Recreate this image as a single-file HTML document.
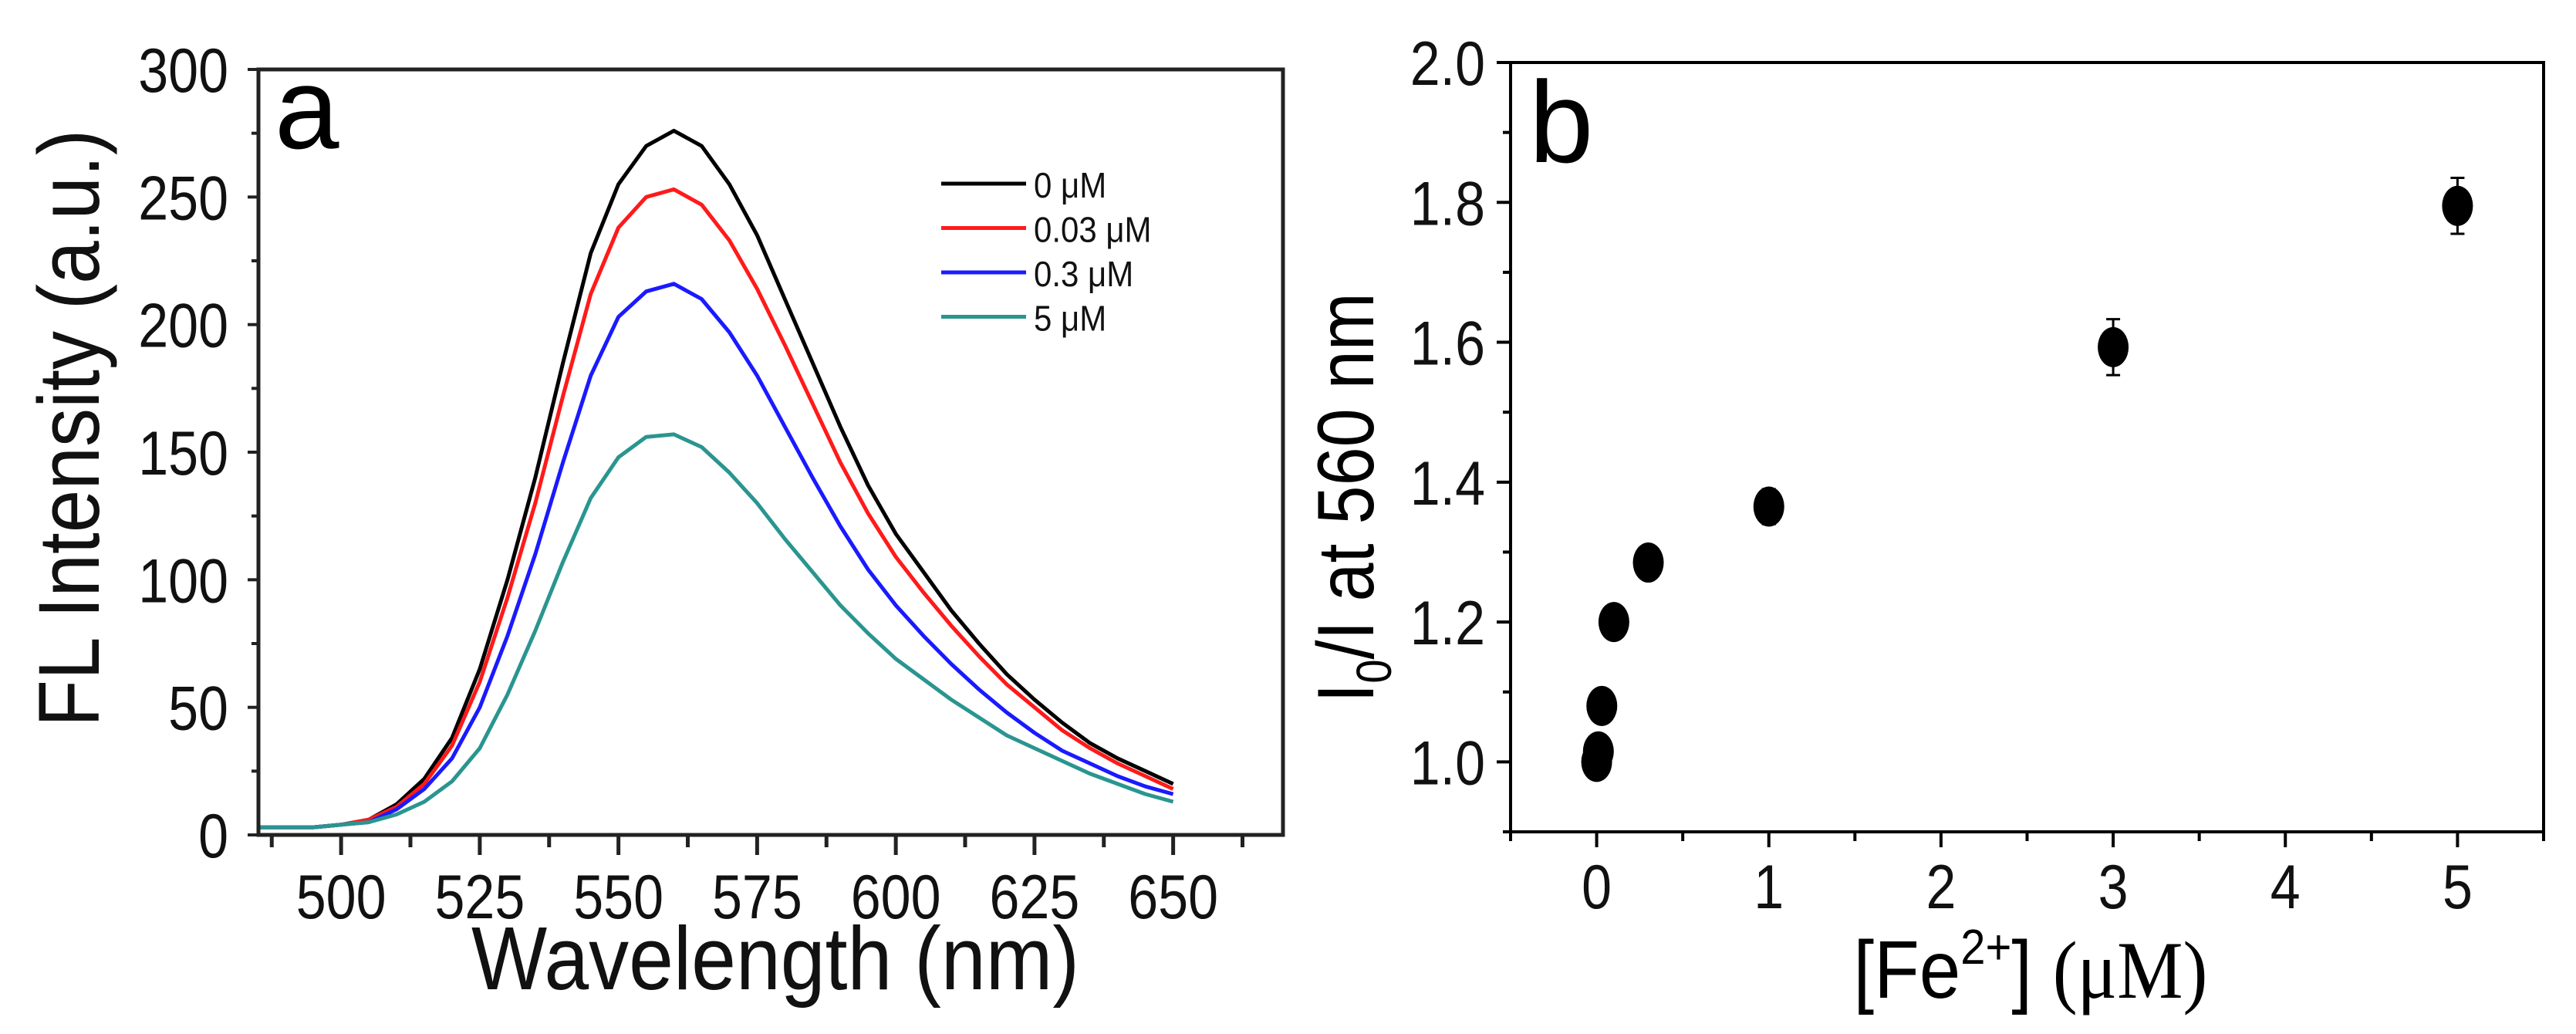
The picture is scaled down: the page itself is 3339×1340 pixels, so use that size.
<!DOCTYPE html>
<html><head><meta charset="utf-8"><style>
body{margin:0;background:#fff;}
svg{display:block;font-family:"Liberation Sans",Arial,sans-serif;}
</style></head><body>
<svg id="fig" width="3339" height="1340" viewBox="0 0 3339 1340">
<g id="pa"></g>
<g id="pb"></g>
</svg>
<script>
// Panel a data
const wavelengths=[485,490,495,500,505,510,515,520,525,530,535,540,545,550,555,560,565,570,575,580,585,590,595,600,605,610,615,620,625,630,635,640,645,650];
const series0=[3,3,3,4,6,12,22,38,65,100,140,185,228,255,270,276,270,255,235,210,185,160,137,118,103,88,75,63,53,44,36,30,25,20];
const series003=[3,3,3,4,6,11,20,35,60,93,130,172,212,238,250,253,247,233,214,192,169,146,126,109,95,82,70,59,50,41,34,28,23,18];
const series03=[3,3,3,4,5,10,18,30,50,78,110,146,180,203,213,216,210,197,180,160,140,121,104,90,78,67,57,48,40,33,28,23,19,16];
const series5=[3,3,3,4,5,8,13,21,34,55,80,107,132,148,156,157,152,142,130,116,103,90,79,69,61,53,46,39,34,29,24,20,16,13];
const legendLabels=["0 μM","0.03 μM","0.3 μM","5 μM"];
const aXTicks=[500,525,550,575,600,625,650];
const aYTicks=[0,50,100,150,200,250,300];
// Panel b data
const conc=[0,0.01,0.03,0.1,0.3,1,3,5];
const ratio=[1.0,1.015,1.08,1.2,1.285,1.365,1.593,1.795];
const ratioErr=[0,0,0,0,0,0.025,0.04,0.04];
const bXTicks=[0,1,2,3,4,5];
const bYTicks=[1.0,1.2,1.4,1.6,1.8,2.0];

const NS="http://www.w3.org/2000/svg";
function mk(tag,attrs,parent,text){const e=document.createElementNS(NS,tag);for(const k in attrs)e.setAttribute(k,attrs[k]);if(text!==undefined)e.textContent=text;parent.appendChild(e);return e;}
// vertically stretched text helper (reference font is taller than wide)
function vtext(x,y,size,anchor,str,parent,sy){return mk('text',{x:0,y:0,'font-size':size,'text-anchor':anchor,fill:'#111',transform:`translate(${x},${y}) scale(1,${sy||1.15})`},parent,str);}

// ---- Panel a ----
const pa=document.getElementById('pa');
const aL=335,aR=1663,aT=90,aB=1082,ax0=485.1,ax1=669.8,ay0=0,ay1=300;
const axA=v=>aL+(v-ax0)/(ax1-ax0)*(aR-aL);
const ayA=v=>aB-(v-ay0)/(ay1-ay0)*(aB-aT);
for(let v=487.5;v<=669;v+=12.5){const major=(v%25===0);
 const t=mk('line',{x1:axA(v),x2:axA(v),y1:aB,y2:aB+(major?26:16),stroke:'#222','stroke-width':5},pa);
 }
for(let v=0;v<=300;v+=25){const t=mk('line',{x1:aL,x2:aL-(v%50===0?14:9),y1:ayA(v),y2:ayA(v),stroke:'#222','stroke-width':4},pa);
 }
aXTicks.forEach(v=>{const t=vtext(axA(v),1190,70,'middle',String(v),pa);
 });
aYTicks.forEach(v=>{const t=vtext(296,ayA(v)+29,70,'end',String(v),pa);
 });
const colors=['#000000','#ff1a1a','#1a1aff','#2a9590'];
[series0,series003,series03,series5].forEach((s,i)=>{
 const d=s.map((v,j)=>(j?'L':'M')+axA(wavelengths[j]).toFixed(1)+','+ayA(v).toFixed(1)).join(' ');
 const p=mk('path',{d:d,fill:'none',stroke:colors[i],'stroke-width':5,'stroke-linejoin':'round'},pa);
 });
const fa=mk('rect',{x:aL,y:aT,width:aR-aL,height:aB-aT,fill:'none',stroke:'#222','stroke-width':5},pa);

legendLabels.forEach((lab,i)=>{const y=238+i*57.5;
 const l=mk('line',{x1:1220,x2:1330,y1:y,y2:y,stroke:colors[i],'stroke-width':5},pa);
 
 const t=vtext(1340,y+18,42,'start',lab,pa,1.1);
 });
let t;
t=mk('text',{x:356,y:192,'font-size':150,fill:'#000'},pa,'a');

t=vtext(1005,1282,104,'middle','Wavelength (nm)',pa,1.12);

t=mk('text',{x:0,y:0,'font-size':100,'text-anchor':'middle',fill:'#111',transform:'translate(128,555) rotate(-90) scale(1,1.12)'},pa,'FL Intensity (a.u.)');


// ---- Panel b ----
const pb=document.getElementById('pb');
const bL=1958,bR=3297,bT=81,bB=1078,bx0=-0.5,bx1=5.5,by0=0.9,by1=2.0;
const bxA=v=>bL+(v-bx0)/(bx1-bx0)*(bR-bL);
const byA=v=>bB-(v-by0)/(by1-by0)*(bB-bT);
for(let v=-0.5;v<=5.51;v+=0.5){const major=Math.abs(v-Math.round(v))<1e-6;
 const tk=mk('line',{x1:bxA(v),x2:bxA(v),y1:bB,y2:bB+(major?20:12),stroke:'#000','stroke-width':4},pb);
 }
for(let k=0;k<=11;k++){const v=0.9+k*0.1;const major=(k%2===1);
 const tk=mk('line',{x1:bL,x2:bL-(major?18:10),y1:byA(v),y2:byA(v),stroke:'#000','stroke-width':4},pb);
 }
bXTicks.forEach(v=>{const tt=vtext(bxA(v),1177,70,'middle',String(v),pb);
 });
bYTicks.forEach(v=>{const tt=vtext(1925,byA(v)+29,70,'end',v.toFixed(1),pb);
 });
const fb=mk('rect',{x:bL,y:bT,width:bR-bL,height:bB-bT,fill:'none',stroke:'#000','stroke-width':4},pb);

conc.forEach((c,i)=>{const x=bxA(c),y=byA(ratio[i]);
 if(ratioErr[i]>0){const y1=byA(ratio[i]+ratioErr[i]),y2=byA(ratio[i]-ratioErr[i]);
  const e=mk('path',{d:`M${x},${y1}V${y2}M${x-9},${y1}H${x+9}M${x-9},${y2}H${x+9}`,stroke:'#000','stroke-width':3,fill:'none'},pb);
  }
 const m=mk('ellipse',{cx:x,cy:y,rx:20,ry:26,fill:'#000'},pb);
 });
t=mk('text',{x:1982,y:210,'font-size':150,fill:'#000'},pb,'b');

const xt=mk('text',{x:0,y:0,'font-size':96,'text-anchor':'middle',fill:'#000',transform:'translate(2632,1293) scale(1,1.1)'},pb);

xt.innerHTML='[Fe<tspan font-size="58" dy="-40">2+</tspan><tspan dy="40">] </tspan><tspan font-family="Liberation Serif,serif">(μM)</tspan>';
const yt=mk('text',{x:0,y:0,'font-size':90,'text-anchor':'middle',fill:'#000',transform:'translate(1780,645) rotate(-90) scale(1,1.15)'},pb);

yt.innerHTML='I<tspan font-size="56" dy="20">0</tspan><tspan dy="-20">/I at 560 nm</tspan>';
</script>
</body></html>
